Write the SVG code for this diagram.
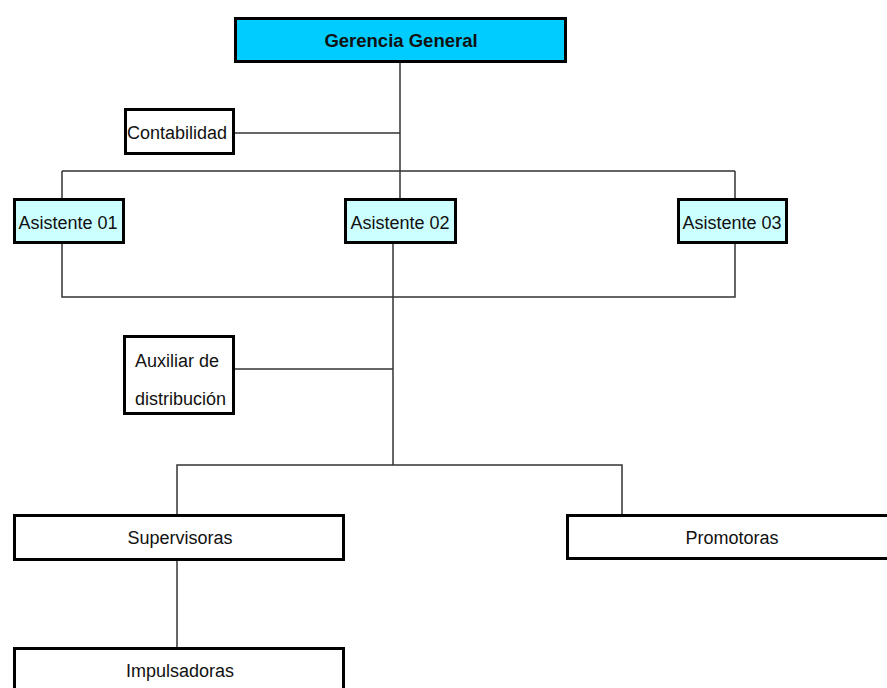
<svg xmlns="http://www.w3.org/2000/svg" width="887" height="688" viewBox="0 0 887 688">
  <style>
    .box { stroke: #000; stroke-width: 3; fill: #fff; }
    .top { fill: #00ccff; }
    .aide { fill: #ccffff; }
    .lbl { font-family: "Liberation Sans", Arial, sans-serif; font-size: 18px; fill: #111; text-anchor: middle; }
    .bold { font-weight: bold; font-size: 18.5px; }
    .left { text-anchor: start; }
    #connectors path { stroke: #333; stroke-width: 1.5; fill: none; }
  </style>
  <rect width="887" height="688" fill="#fff"/>

  <g id="connectors">
    <!-- main trunk from Gerencia General down to Asistente 02 -->
    <path d="M400 63 V198"/>
    <!-- Contabilidad branch -->
    <path d="M235 133 H400"/>
    <!-- bus above the assistants -->
    <path d="M62 171 H735 M62 171 V198 M735 171 V198"/>
    <!-- bus below the assistants -->
    <path d="M62 244 V297 H735 V244"/>
    <!-- trunk from Asistente 02 down to the field staff -->
    <path d="M393 244 V465"/>
    <!-- Auxiliar de distribución branch -->
    <path d="M235 369 H393"/>
    <!-- bus to Supervisoras and Promotoras -->
    <path d="M177 514 V465 H622 V514"/>
    <!-- Supervisoras to Impulsadoras -->
    <path d="M177 561 V647"/>
  </g>

  <g id="gerencia">
    <rect class="box top" x="235.5" y="18.5" width="330" height="43"/>
    <text class="lbl bold" x="401" y="47">Gerencia General</text>
  </g>

  <g id="contabilidad">
    <rect class="box" x="125.5" y="109.5" width="108" height="44"/>
    <text class="lbl" x="177" y="139">Contabilidad</text>
  </g>

  <g id="asistente01">
    <rect class="box aide" x="14.5" y="199.5" width="109" height="43"/>
    <text class="lbl" x="68" y="229">Asistente 01</text>
  </g>

  <g id="asistente02">
    <rect class="box aide" x="345.5" y="199.5" width="110" height="43"/>
    <text class="lbl" x="400" y="229">Asistente 02</text>
  </g>

  <g id="asistente03">
    <rect class="box aide" x="678.5" y="199.5" width="108" height="43"/>
    <text class="lbl" x="732" y="229">Asistente 03</text>
  </g>

  <g id="auxiliar">
    <rect class="box" x="124.5" y="336.5" width="109" height="77"/>
    <text class="lbl left" x="135" y="367">Auxiliar de</text>
    <text class="lbl left" x="135" y="405">distribución</text>
  </g>

  <g id="supervisoras">
    <rect class="box" x="14.5" y="515.5" width="329" height="44"/>
    <text class="lbl" x="180" y="544">Supervisoras</text>
  </g>

  <g id="promotoras">
    <rect class="box" x="567.5" y="515.5" width="340" height="43"/>
    <text class="lbl" x="732" y="544">Promotoras</text>
  </g>

  <g id="impulsadoras">
    <rect class="box" x="14.5" y="648.5" width="329" height="60"/>
    <text class="lbl" x="180" y="677">Impulsadoras</text>
  </g>
</svg>
